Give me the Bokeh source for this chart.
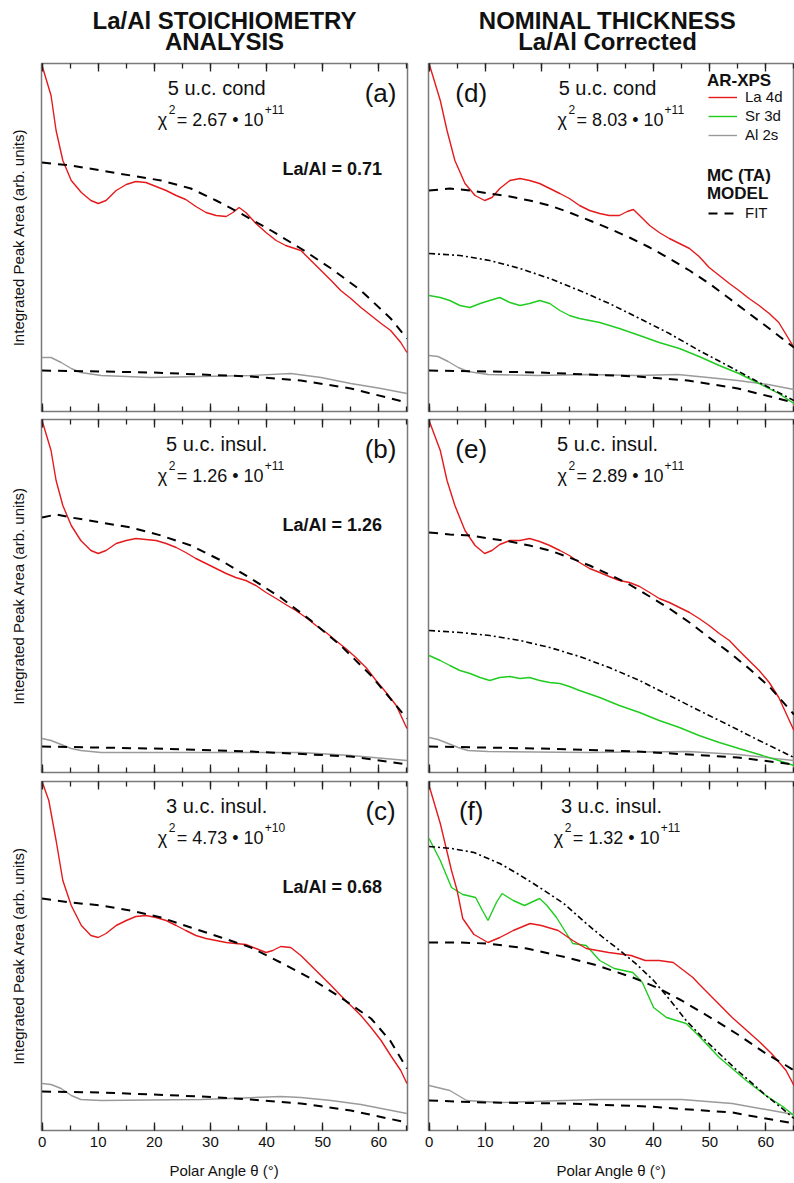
from bokeh.plotting import figure
from bokeh.models import (Range1d, LinearAxis, SingleIntervalTicker, FixedTicker,
                          Label, Legend, LegendItem)
from bokeh.layouts import column, row
from bokeh.embed import file_html
from bokeh.resources import INLINE

FONT = "Liberation Sans"
RED = "#e41a1c"
GREEN = "#1fcc1f"
GRAY = "#9a9a9a"

# ---------------- data (polar angle in degrees, peak area in arb. units) ----------------
# (a) 5 u.c. cond
a_la_deg = [0, 1.6, 2.5, 3.7, 5.2, 7.0, 8.7, 10.0, 11.4, 13.2, 15.0, 16.7, 18.5, 20.3, 22.1, 23.9, 25.6, 27.4, 29.2, 31.0,
            32.8, 34.0, 35.1, 36.3, 38.1, 39.9, 41.7, 43.4, 46.1, 47.9, 49.7, 51.5, 53.2, 55.0, 56.8, 58.6, 60.4, 62.1, 63.9, 65.0]
a_la = [346, 316, 281, 251, 231, 219, 211, 208, 211, 221, 227, 230, 229, 225, 221, 216, 212, 205, 199, 196,
        195, 199, 204, 199, 188, 179, 171, 166, 161, 151, 141, 131, 121, 113, 104, 96, 88, 81, 69, 59]
a_fit_deg = [0, 5.2, 10.5, 15.8, 21.2, 26.5, 31.0, 35.4, 40.8, 46.1, 51.5, 56.8, 62.1, 65.0]
a_fit = [249, 246, 241, 236, 231, 223, 211, 198, 181, 163, 143, 121, 93, 73]
a_al_deg = [0, 1.6, 3.4, 5.2, 6.9, 10.5, 19.4, 28.3, 37.2, 44.3, 49.7, 55.0, 60.4, 65.0]
a_al = [54, 54, 49, 43, 39, 36, 34, 35, 36, 38, 34, 28, 23, 18]
a_alfit_deg = [0, 10.5, 19.4, 28.3, 37.2, 46.1, 55.0, 65.0]
a_alfit = [41, 40, 39, 37, 35, 31, 23, 9]

# (b) 5 u.c. insul.
b_la_deg = [0, 1.6, 2.5, 3.7, 5.2, 6.9, 8.7, 10.0, 11.4, 13.2, 15.0, 16.7, 18.5, 20.3, 22.1, 23.9, 25.6, 27.4, 29.2, 31.0,
            32.8, 34.5, 36.3, 38.1, 39.9, 41.7, 43.4, 45.2, 47.0, 48.8, 50.6, 52.3, 54.1, 55.9, 57.7, 59.5, 61.3, 63.1, 65.0]
b_la = [352, 322, 292, 267, 247, 232, 222, 219, 222, 229, 232, 234, 233, 232, 229, 225, 220, 214, 209, 204,
        199, 195, 192, 187, 180, 174, 168, 162, 155, 147, 140, 132, 124, 115, 105, 92, 80, 67, 44]
b_fit_deg = [0, 2.5, 5.2, 10.5, 15.8, 21.2, 26.5, 31.9, 37.2, 42.5, 47.9, 53.2, 58.6, 65.0]
b_fit = [255, 258, 255, 250, 245, 237, 227, 212, 194, 175, 152, 127, 97, 54]
b_al_deg = [0, 1.6, 3.4, 5.2, 6.9, 10.5, 28.3, 46.1, 55.0, 65.0]
b_al = [34, 32, 28, 24, 22, 20, 20, 20, 17, 12]
b_alfit_deg = [0, 19.4, 37.2, 55.0, 65.0]
b_alfit = [26, 24, 21, 16, 8]

# (c) 3 u.c. insul.
c_la_deg = [0, 1.2, 2.5, 3.7, 5.2, 7.0, 8.7, 10.0, 11.4, 13.2, 15.0, 16.7, 18.5, 20.3, 22.1, 23.9, 25.6, 27.4, 29.2, 31.0,
            32.8, 34.5, 36.3, 38.1, 39.9, 41.1, 42.5, 44.3, 46.1, 47.9, 49.7, 51.5, 53.2, 55.0, 56.8, 58.6, 60.4, 62.1, 63.9, 65.0]
c_la = [349, 330, 290, 250, 225, 205, 195, 193, 197, 205, 210, 214, 215, 213, 210, 205, 200, 195, 192, 190,
        188, 187, 186, 182, 178, 180, 184, 183, 175, 165, 155, 145, 135, 125, 115, 103, 90, 75, 60, 47]
c_fit_deg = [0, 5.2, 10.5, 15.8, 21.2, 26.5, 31.9, 37.2, 42.5, 47.9, 53.2, 58.6, 62.0, 65.0]
c_fit = [232, 228, 225, 220, 213, 203, 193, 183, 168, 152, 133, 112, 90, 62]
c_al_deg = [0, 1.6, 3.4, 5.2, 6.9, 10.5, 28.3, 42.5, 46.1, 51.5, 56.8, 65.0]
c_al = [47, 46, 42, 35, 31, 30, 31, 34, 33, 30, 26, 17]
c_alfit_deg = [0, 10.5, 19.4, 28.3, 37.2, 46.1, 55.0, 65.0]
c_alfit = [39, 38, 36, 34, 31, 27, 20, 8]

# (d) 5 u.c. cond, nominal thickness
d_la_deg = [0, 2.0, 3.2, 4.6, 6.4, 8.2, 9.9, 11.2, 12.6, 14.4, 16.2, 17.9, 19.7, 21.5, 23.3, 25.0, 26.8, 28.6, 30.4, 32.1,
            33.9, 35.3, 36.4, 37.5, 39.3, 41.0, 42.8, 44.6, 46.4, 48.1, 49.9, 51.7, 53.5, 55.2, 57.0, 58.8, 60.6, 62.3, 65.0]
d_la = [348, 311, 281, 251, 228, 216, 211, 214, 223, 231, 233, 231, 228, 223, 218, 213, 206, 201, 198, 196,
        196, 200, 202, 196, 186, 179, 173, 168, 163, 155, 144, 136, 128, 121, 113, 106, 98, 89, 64]
d_fit_deg = [0, 3.7, 7.3, 10.8, 14.4, 17.9, 21.5, 25.0, 28.6, 32.1, 35.7, 39.3, 42.8, 46.4, 49.9, 53.5, 57.0, 60.6, 65.0]
d_fit = [221, 223, 221, 218, 215, 211, 206, 199, 191, 183, 174, 164, 153, 141, 128, 113, 98, 83, 64]
d_sr_deg = [0, 2.0, 3.7, 5.5, 7.3, 9.1, 10.8, 12.6, 14.4, 16.2, 17.9, 19.7, 21.5, 23.3, 25.0, 26.8, 30.4, 33.9, 37.5,
            41.0, 44.6, 48.1, 51.7, 55.2, 58.8, 62.3, 65.0]
d_sr = [116, 114, 111, 106, 104, 108, 111, 114, 109, 106, 108, 111, 108, 101, 96, 93, 89, 83, 76,
        69, 63, 55, 46, 38, 28, 18, 8]
d_mc_deg = [0, 5.5, 10.8, 16.2, 21.5, 26.8, 32.1, 37.5, 42.8, 48.1, 53.5, 58.8, 65.0]
d_mc = [158, 156, 151, 143, 133, 121, 108, 93, 78, 61, 45, 29, 11]
d_al_deg = [0, 1.6, 3.4, 5.2, 6.9, 10.5, 19.4, 28.3, 37.2, 44.3, 49.7, 55.0, 60.4, 65.0]
d_al = [56, 55, 50, 44, 40, 37, 36, 37, 36, 37, 34, 31, 27, 22]
d_alfit_deg = [0, 10.5, 19.4, 28.3, 37.2, 46.1, 55.0, 65.0]
d_alfit = [41, 40, 39, 37, 35, 31, 23, 9]

# (e) 5 u.c. insul., nominal thickness
e_la_deg = [0, 2.0, 3.2, 4.6, 6.4, 8.2, 9.9, 11.2, 12.6, 14.4, 16.2, 17.9, 19.7, 21.5, 23.3, 25.0, 26.8, 28.6, 30.4, 32.1,
            33.9, 35.7, 37.5, 39.3, 41.0, 42.8, 44.6, 46.4, 48.1, 49.9, 51.7, 53.5, 55.2, 57.0, 58.8, 60.6, 62.3, 65.0]
e_la = [352, 322, 292, 267, 242, 227, 219, 222, 228, 232, 232, 234, 231, 227, 222, 217, 210, 204, 200, 196,
        192, 190, 186, 180, 174, 170, 165, 160, 154, 147, 139, 132, 122, 112, 102, 90, 75, 42]
e_fit_deg = [0, 3.7, 7.3, 10.8, 14.4, 17.9, 21.5, 25.0, 28.6, 32.1, 35.7, 39.3, 42.8, 46.4, 49.9, 53.5, 57.0, 60.6, 65.0]
e_fit = [240, 238, 237, 234, 231, 227, 222, 215, 207, 198, 188, 176, 164, 150, 135, 120, 104, 86, 58]
e_sr_deg = [0, 2.0, 3.7, 5.5, 7.3, 9.1, 10.8, 12.6, 14.4, 16.2, 17.9, 19.7, 21.5, 23.3, 25.0, 26.8, 30.4, 33.9, 37.5,
            41.0, 44.6, 48.1, 51.7, 55.2, 58.8, 62.3, 65.0]
e_sr = [117, 112, 107, 102, 99, 95, 92, 95, 96, 94, 95, 92, 90, 89, 86, 82, 75, 67, 60,
        52, 45, 37, 30, 24, 18, 12, 7]
e_mc_deg = [0, 5.5, 10.8, 16.2, 21.5, 26.8, 32.1, 37.5, 42.8, 48.1, 53.5, 58.8, 65.0]
e_mc = [142, 140, 137, 132, 125, 116, 105, 92, 77, 62, 47, 32, 15]
e_al_deg = [0, 1.6, 3.4, 5.2, 6.9, 10.5, 28.3, 46.1, 55.0, 65.0]
e_al = [35, 33, 29, 25, 22, 21, 20, 21, 18, 12]
e_alfit_deg = [0, 19.4, 37.2, 55.0, 65.0]
e_alfit = [26, 24, 21, 15, 8]

# (f) 3 u.c. insul., nominal thickness
f_la_deg = [0, 2.0, 4.0, 5.0, 6.0, 8.0, 10.5, 12.6, 15.0, 18.0, 20.0, 23.0, 25.6, 28.0, 32.0, 36.0, 38.5, 41.0, 43.5, 47.0,
            48.0, 51.0, 54.0, 57.0, 59.0, 61.0, 63.6, 65.0]
f_la = [345, 307, 260, 240, 212, 196, 188, 193, 200, 207, 205, 200, 190, 182, 178, 175, 170, 170, 168, 153,
        147, 130, 113, 98, 88, 77, 60, 45]
f_fit_deg = [0, 5.3, 10.5, 17.4, 24.5, 30.0, 36.3, 41.0, 45.0, 51.0, 55.0, 60.0, 63.6, 65.0]
f_fit = [188, 188, 187, 182, 173, 165, 153, 142, 130, 110, 96, 77, 65, 60]
f_sr_deg = [0, 2.0, 4.0, 6.0, 8.3, 9.5, 10.5, 12.0, 13.0, 15.0, 17.0, 19.7, 21.0, 22.7, 25.6, 28.0, 30.4, 33.0, 36.3, 38.0,
            40.0, 42.3, 45.8, 48.0, 51.7, 54.0, 56.5, 60.0, 63.0, 65.0]
f_sr = [292, 270, 243, 236, 233, 220, 210, 228, 237, 230, 225, 232, 225, 213, 187, 185, 170, 162, 158, 148,
        123, 113, 107, 95, 73, 62, 50, 35, 24, 15]
f_mc_deg = [0, 4.0, 8.0, 12.6, 16.0, 19.7, 24.0, 28.0, 31.0, 34.0, 37.0, 40.0, 43.0, 45.8, 48.7, 51.7, 54.5, 57.0, 60.0,
            62.5, 65.0]
f_mc = [284, 282, 278, 267, 256, 243, 227, 207, 193, 180, 166, 150, 130, 110, 93, 77, 62, 50, 35, 24, 12]
f_al_deg = [0, 3.7, 6.7, 12.6, 30.0, 45.0, 54.0, 64.0, 65.0]
f_al = [45, 40, 30, 28, 31, 31, 27, 17, 16]
f_alfit_deg = [0, 10.0, 24.5, 39.0, 54.0, 65.0]
f_alfit = [30, 28, 27, 24, 18, 7]

# panel texts
tags = ["(a)", "(b)", "(c)", "(d)", "(e)", "(f)"]
samples = ["5 u.c. cond", "5 u.c. insul.", "3 u.c. insul.", "5 u.c. cond", "5 u.c. insul.", "3 u.c. insul."]
chi_values = ["2.67", "1.26", "4.73", "8.03", "2.89", "1.32"]
chi_exponents = ["+11", "+11", "+10", "+11", "+11", "+11"]
ratios = ["La/Al = 0.71", "La/Al = 1.26", "La/Al = 0.68"]
headers = [["La/Al STOICHIOMETRY", "ANALYSIS"], ["NOMINAL THICKNESS", "La/Al Corrected"]]
x_title = "Polar Angle \u03b8 (\u00b0)"
y_title = "Integrated Peak Area (arb. units)"

# ---------------- layout geometry ----------------
ROW_H = [348, 353, 349]          # frame heights (1 data unit = 1 px)
ROW_TOP = [5, 4, 5]
ROW_BOT = [4, 4, 53]
LEFT_W, RIGHT_W = 417, 377


def add_text(p, x, y, text, size, bold=False, align="center", baseline="middle",
             x_off=0, y_off=0, color="#111111"):
    p.add_layout(Label(x=x, y=y, text=text, text_font=FONT, text_font_size=f"{size}px",
                       text_font_style="bold" if bold else "normal", text_align=align,
                       text_baseline=baseline, x_offset=x_off, y_offset=y_off,
                       text_color=color))


def add_chi(p, x, y, value, exponent):
    add_text(p, x, y, "\u03c7", 18, align="left", baseline="alphabetic")
    add_text(p, x, y, "2", 12, align="left", baseline="alphabetic", x_off=11, y_off=10)
    add_text(p, x, y, f"= {value} \u2022 10", 18, align="left", baseline="alphabetic", x_off=19)
    add_text(p, x, y, exponent, 12, align="left", baseline="alphabetic", x_off=19 + 88, y_off=10)


def style_x(ax, labels):
    ax.ticker = SingleIntervalTicker(interval=10, num_minor_ticks=2)
    ax.major_tick_in = 8
    ax.major_tick_out = 0
    ax.minor_tick_in = 5
    ax.minor_tick_out = 0
    ax.axis_line_color = None
    ax.major_tick_line_color = "#222222"
    ax.minor_tick_line_color = "#222222"
    ax.major_tick_line_width = 1.3
    ax.minor_tick_line_width = 1.3
    if labels:
        ax.major_label_text_font = FONT
        ax.major_label_text_font_size = "15px"
        ax.major_label_text_color = "#111111"
        ax.major_label_standoff = 6
    else:
        # tick marks only: labels are not painted
        ax.major_label_text_font_size = "1px"
        ax.major_label_text_color = None
        ax.major_label_standoff = 0


def make_panel(col, r):
    H = ROW_H[r]
    left = col == 0
    p = figure(width=LEFT_W if left else RIGHT_W, height=ROW_TOP[r] + H + ROW_BOT[r],
               x_range=Range1d(-0.1, 65.1), y_range=Range1d(0, H),
               output_backend="svg", toolbar_location=None,
               min_border_left=41 if left else 11, min_border_right=10 if left else 0,
               min_border_top=ROW_TOP[r], min_border_bottom=ROW_BOT[r])
    p.xgrid.visible = False
    p.ygrid.visible = False
    p.outline_line_color = "#7a7a7a"
    p.outline_line_width = 1.5
    p.background_fill_color = "white"
    p.border_fill_color = "white"

    style_x(p.xaxis[0], r == 2)
    if r == 2:
        p.xaxis.axis_label = x_title
        p.xaxis.axis_label_text_font = FONT
        p.xaxis.axis_label_text_font_size = "15px"
        p.xaxis.axis_label_text_font_style = "normal"
        p.xaxis.axis_label_text_color = "#111111"
        p.xaxis.axis_label_standoff = 12
    top_axis = LinearAxis()
    style_x(top_axis, False)
    p.add_layout(top_axis, "above")

    if left:
        p.yaxis.ticker = FixedTicker(ticks=[])
        p.yaxis.major_label_text_font_size = "1px"
        p.yaxis.major_label_text_color = None
        p.yaxis.axis_line_color = None
        p.yaxis.axis_label = y_title
        p.yaxis.axis_label_text_font = FONT
        p.yaxis.axis_label_text_font_size = "15px"
        p.yaxis.axis_label_text_font_style = "normal"
        p.yaxis.axis_label_text_color = "#111111"
        p.yaxis.axis_label_standoff = 15
    else:
        p.yaxis.visible = False
    return p


def draw(p, la_x, la, fit_x, fit, al_x, al, alfit_x, alfit, sr_x=None, sr=None, mc_x=None, mc=None):
    rs = {}
    rs["al"] = p.line(al_x, al, line_color=GRAY, line_width=1.4)
    if sr is not None:
        rs["sr"] = p.line(sr_x, sr, line_color=GREEN, line_width=1.4)
    rs["la"] = p.line(la_x, la, line_color=RED, line_width=1.4)
    if mc is not None:
        rs["mc"] = p.line(mc_x, mc, line_color="black", line_width=1.6, line_dash="6 3 2 3")
    rs["fit"] = p.line(fit_x, fit, line_color="black", line_width=2, line_dash="9 7")
    p.line(alfit_x, alfit, line_color="black", line_width=2, line_dash="9 7")
    return rs


def style_legend(lg):
    lg.label_text_font = FONT
    lg.label_text_font_size = "15px"
    lg.label_text_color = "#111111"
    lg.glyph_width = 29
    lg.glyph_height = 16
    lg.label_height = 16
    lg.label_standoff = 8
    lg.spacing = 2
    lg.padding = 0
    lg.margin = 0
    lg.border_line_color = None
    lg.background_fill_alpha = 0


panels = {}
data = {
    (0, 0): (a_la_deg, a_la, a_fit_deg, a_fit, a_al_deg, a_al, a_alfit_deg, a_alfit),
    (0, 1): (b_la_deg, b_la, b_fit_deg, b_fit, b_al_deg, b_al, b_alfit_deg, b_alfit),
    (0, 2): (c_la_deg, c_la, c_fit_deg, c_fit, c_al_deg, c_al, c_alfit_deg, c_alfit),
    (1, 0): (d_la_deg, d_la, d_fit_deg, d_fit, d_al_deg, d_al, d_alfit_deg, d_alfit, d_sr_deg, d_sr, d_mc_deg, d_mc),
    (1, 1): (e_la_deg, e_la, e_fit_deg, e_fit, e_al_deg, e_al, e_alfit_deg, e_alfit, e_sr_deg, e_sr, e_mc_deg, e_mc),
    (1, 2): (f_la_deg, f_la, f_fit_deg, f_fit, f_al_deg, f_al, f_alfit_deg, f_alfit, f_sr_deg, f_sr, f_mc_deg, f_mc),
}

# text anchor positions in degrees (x) for each column
TITLE_X = [31.1, 31.8]
TAG_X = [60.3, 7.5]
CHI_X = [20.6, 22.9]

for col in range(2):
    for r in range(3):
        p = make_panel(col, r)
        H = ROW_H[r]
        rs = draw(p, *data[(col, r)])
        i = col * 3 + r
        tx = TITLE_X[col]
        if col == 1 and r == 2:
            tx = 32.5
        add_text(p, tx, H - 24, samples[i], 20)
        add_text(p, TAG_X[col], H - 29, tags[i], 26)
        add_chi(p, CHI_X[col] if not (col == 1 and r == 2) else 22.2, H - 56, chi_values[i], chi_exponents[i])
        if col == 0:
            add_text(p, 51.7, H - 105, ratios[r], 18, bold=True)
        if col == 1 and r == 0:
            leg1 = Legend(items=[LegendItem(label="La 4d", renderers=[rs["la"]]),
                                 LegendItem(label="Sr 3d", renderers=[rs["sr"]]),
                                 LegendItem(label="Al 2s", renderers=[rs["al"]])],
                          location=(280, 268))
            leg2 = Legend(items=[LegendItem(label="FIT", renderers=[rs["fit"]])],
                          location=(280, 190))
            for lg in (leg1, leg2):
                style_legend(lg)
                p.add_layout(lg)
            add_text(p, 49.5, H - 17, "AR-XPS", 17, bold=True, align="left")
            add_text(p, 49.5, H - 112, "MC (TA)", 17, bold=True, align="left")
            add_text(p, 49.5, H - 130, "MODEL", 17, bold=True, align="left")
        panels[(col, r)] = p

# header row with the two column titles
head = figure(width=794, height=58, x_range=Range1d(0, 794), y_range=Range1d(58, 0),
              output_backend="svg", toolbar_location=None, min_border=0,
              x_axis_location=None, y_axis_location=None)
head.outline_line_color = None
head.xgrid.visible = False
head.ygrid.visible = False
for cx, lines in zip([224, 607], headers):
    add_text(head, cx, 20, lines[0], 24, bold=True)
    add_text(head, cx, 41, lines[1], 24, bold=True)

layout = column(head,
                row(panels[(0, 0)], panels[(1, 0)]),
                row(panels[(0, 1)], panels[(1, 1)]),
                row(panels[(0, 2)], panels[(1, 2)]))

open("out.html", "w").write(file_html(layout, INLINE))
